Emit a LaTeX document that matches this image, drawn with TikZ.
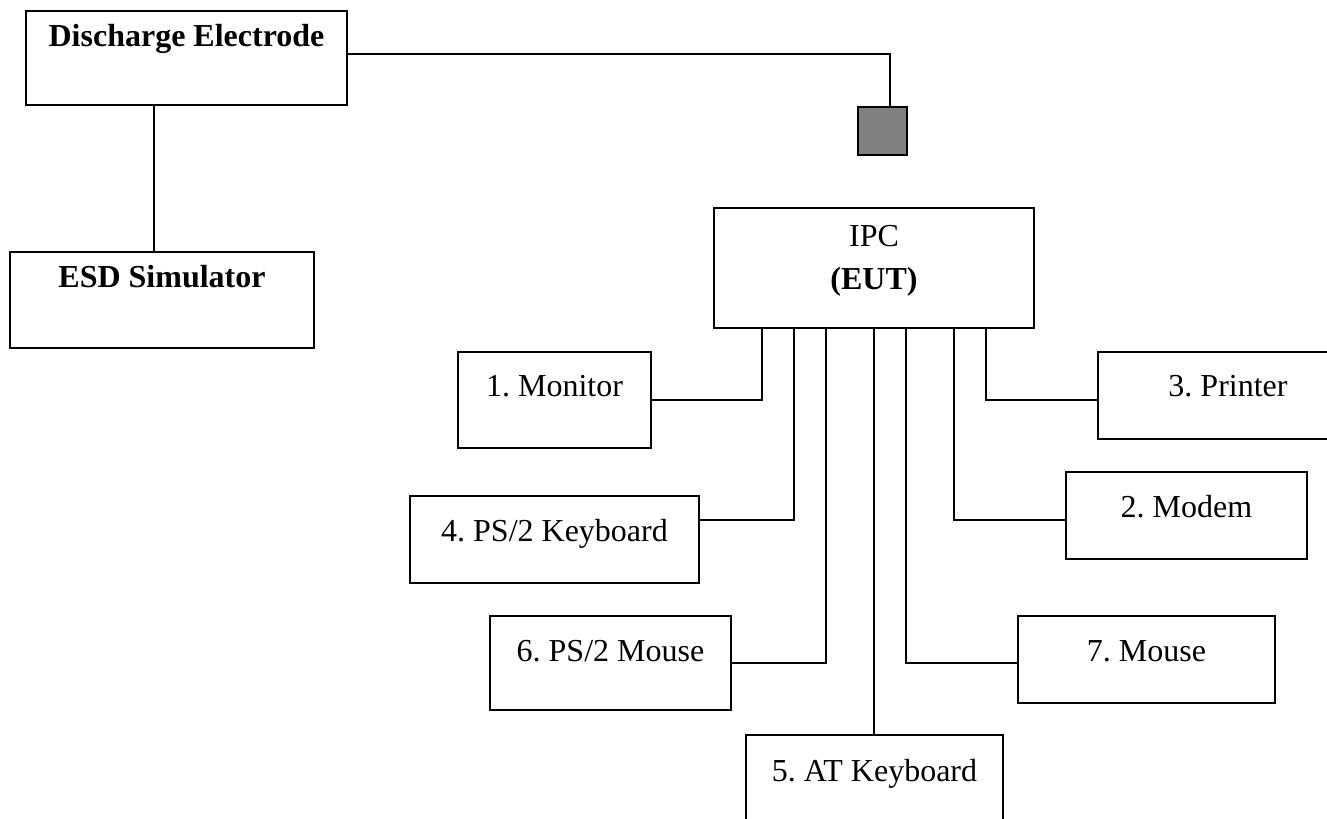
\documentclass[tikz,border=0pt]{standalone}
\usepackage{fontspec}
\setmainfont{Liberation Serif}
\usetikzlibrary{positioning, calc}
\frenchspacing

\tikzset{
  devbox/.style 2 args={draw, line width=0.75pt, inner sep=0pt,
    minimum width=#1*\pxu, minimum height=#2*\pxu},
  boxtext/.style={anchor=base, inner sep=0pt, font=\fontsize{12}{14}\selectfont},
  wire/.style={line width=0.75pt}
}

\begin{document}
\begin{tikzpicture}[x=0.375pt, y=-0.375pt]

\def\pxu{0.375pt}

\useasboundingbox (0,0) rectangle (1327,819);
\clip (0,0) rectangle (1327,819);

% Test set-up
\node[devbox={321}{94}, label={[boxtext, name=DEtxt, yshift=-36*\pxu, font=\fontsize{12}{14}\selectfont\bfseries]north:Discharge Electrode}] (DE) at (186.5,58) {};
\node[devbox={304}{96}, label={[boxtext, name=ESDtxt, yshift=-36*\pxu, font=\fontsize{12}{14}\selectfont\bfseries]north:ESD Simulator}] (ESD) at (162,300) {};
\node[devbox={49}{48}, fill=black!50] (tip) at (882.5,131) {};

% EUT
\node[devbox={320}{120},
  label={[boxtext, name=IPCtxt, yshift=-39*\pxu]north:IPC},
  label={[boxtext, name=EUTtxt, yshift=-82*\pxu, font=\fontsize{12}{14}\selectfont\bfseries]north:(EUT)}] (IPC) at (874,268) {};

% Peripherals
\node[devbox={193}{96}, label={[boxtext, name=monitortxt, yshift=-45*\pxu]north:1. Monitor}] (monitor) at (554.5,400) {};
\node[devbox={289}{87}, label={[boxtext, name=pskbdtxt, yshift=-46*\pxu]north:4. PS/2 Keyboard}] (pskbd) at (554.5,539.5) {};
\node[devbox={241}{94}, label={[boxtext, name=psmousetxt, yshift=-46*\pxu]north:6. PS/2 Mouse}] (psmouse) at (610.5,663) {};
\node[devbox={257}{100}, label={[boxtext, name=atkbdtxt, yshift=-47*\pxu]north:5. AT Keyboard}] (atkbd) at (874.5,785) {};
\node[devbox={260}{87}, label={[boxtext, name=printertxt, yshift=-45*\pxu]north:3. Printer}] (printer) at (1228,395.5) {};
\node[devbox={241}{87}, label={[boxtext, name=modemtxt, yshift=-46*\pxu]north:2. Modem}] (modem) at (1186.5,515.5) {};
\node[devbox={257}{87}, label={[boxtext, name=mousetxt, yshift=-46*\pxu]north:7. Mouse}] (mouse) at (1146.5,659.5) {};

% Connectors
\draw[wire] ([xshift=-32.5*\pxu]DE.south) -- ([xshift=-32.5*\pxu]DE.south |- ESD.north);
\draw[wire] ([yshift=4*\pxu]DE.east) -| ([xshift=7.5*\pxu]tip.north);

\draw[wire] (monitor.east) -| ([xshift=-112*\pxu]IPC.south);
\draw[wire] ([yshift=19.5*\pxu]pskbd.east) -| ([xshift=-80*\pxu]IPC.south);
\draw[wire] (psmouse.east) -| ([xshift=-48*\pxu]IPC.south);
\draw[wire] (IPC.south) -- (IPC.south |- atkbd.north);
\draw[wire] ([yshift=-3.5*\pxu]mouse.west) -| ([xshift=32*\pxu]IPC.south);
\draw[wire] ([yshift=-4.5*\pxu]modem.west) -| ([xshift=80*\pxu]IPC.south);
\draw[wire] ([yshift=-4.5*\pxu]printer.west) -| ([xshift=112*\pxu]IPC.south);

\end{tikzpicture}
\end{document}
